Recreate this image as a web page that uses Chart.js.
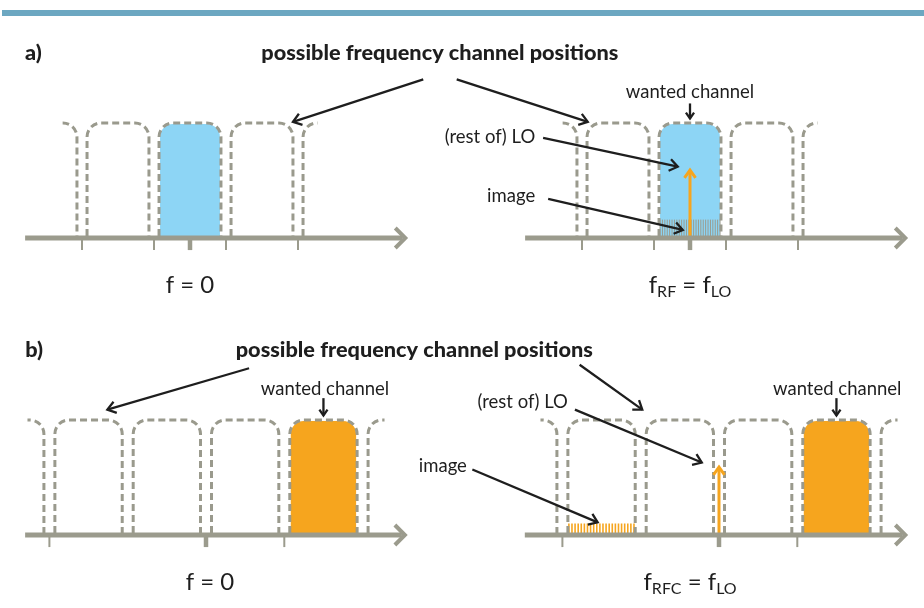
<!DOCTYPE html>
<html>
<head>
<meta charset="utf-8">
<script src="https://cdn.jsdelivr.net/npm/chart.js@4.4.1/dist/chart.umd.min.js"></script>
<style>
  html, body { margin: 0; padding: 0; background: #fff; }
  #wrap { width: 924px; height: 608px; }
</style>
</head>
<body>
<div id="wrap"><canvas id="diagram" width="924" height="608"></canvas></div>
<script>
/* ===================== DATA ===================== */
// frequencies in channel widths, 0 = f = 0 (left panels) or f_LO (right panels)
// levels relative to the channel height (1 = top of a channel)
const channelsA = [-2, -1, 0, 1, 2];
const ticksA = [-1.5, -0.5, 0, 0.5, 1.5];
const wantedA = 0;
const imageA = [-0.43, 0.43];

const channelsB = [-2.5, -1.5, -0.5, 0.5, 1.5, 2.5];
const ticksB = [-2, 0, 1];
const wantedB = 1.5;
const imageB = [-1.93, -1.07];

const loFreq = 0;
const loLevel = 0.59;
const imageLevelA = 0.16;
const imageLevelB = 0.1;
const channelHalf = 0.43;

const TITLE = "possible frequency channel positions";

// [panel, f, level, text, bold, align]
const labels = [
  ["aL", -2.29, 1.545, "a)", true, "left"],
  ["aL", 3.47, 1.545, TITLE, true, "center"],
  ["aR", 0, 1.22, "wanted channel", false, "center"],
  ["aR", -2.15, 0.826, "(rest of) LO", false, "right"],
  ["aR", -2.15, 0.31, "image", false, "right"],
  ["bL", -2.31, 1.545, "b)", true, "left"],
  ["bL", 2.66, 1.545, TITLE, true, "center"],
  ["bL", 1.52, 1.22, "wanted channel", false, "center"],
  ["bR", 1.51, 1.22, "wanted channel", false, "center"],
  ["bR", -1.93, 1.104, "(rest of) LO", false, "right"],
  ["bR", -3.22, 0.548, "image", false, "right"]
];

// frequency captions under each axis: [panel, f, parts] (sub = subscript)
const captions = [
  ["aL", 0, [["f = 0", false]]],
  ["aR", 0, [["f", false], ["RF", true], [" = f", false], ["LO", true]]],
  ["bL", 0.05, [["f = 0", false]]],
  ["bR", -0.37, [["f", false], ["RFC", true], [" = f", false], ["LO", true]]]
];

// pointer arrows: [panel, fromF, fromLevel, toF, toLevel, head]
const pointers = [
  ["aL", 3.24, 1.38, 1.43, 1.01, 10],
  ["aR", -3.24, 1.38, -1.42, 1.01, 10],
  ["aR", 0, 1.17, 0, 1.04, 7],
  ["aR", -2.04, 0.87, -0.17, 0.62, 10],
  ["aR", -1.97, 0.34, -0.1, 0.07, 10],
  ["bL", 0.55, 1.45, -1.26, 1.09, 10],
  ["bR", -1.78, 1.48, -0.98, 1.09, 10],
  ["bL", 1.5, 1.19, 1.5, 1.04, 7],
  ["bR", 1.5, 1.19, 1.5, 1.04, 7],
  ["bR", -1.84, 1.09, -0.22, 0.63, 10],
  ["bR", -3.15, 0.57, -1.55, 0.11, 10]
];

/* ===================== LAYOUT / STYLE ===================== */
const BLUE = "#8dd5f5";
const ORANGE = "#f6a51e";
const GREY = "#9b9b8d";
const DASH_GREY = "#9a9a8d";
const INK = "#1e1e1e";
const RULE = "#6ca7c1";
const CH_H = 115;
const FONT = "Lato, 'Noto Sans', sans-serif";

const panels = {
  aL: { origin: 190, step: 72, base: 238, span: [-2.29, 2.99], clip: [-1.77, 1.77],
        channels: channelsA, ticks: ticksA, wanted: wantedA, fill: BLUE },
  aR: { origin: 690, step: 72, base: 238, span: [-2.29, 2.99], clip: [-1.77, 1.77],
        channels: channelsA, ticks: ticksA, wanted: wantedA, fill: BLUE,
        lo: loFreq, image: imageA, imageLevel: imageLevelA, imageColor: GREY },
  bL: { origin: 206, step: 78.3, base: 535, span: [-2.31, 2.54], clip: [-2.28, 2.28],
        channels: channelsB, ticks: ticksB, wanted: wantedB, fill: ORANGE },
  bR: { origin: 719, step: 78.3, base: 535, span: [-2.48, 2.38], clip: [-2.28, 2.28],
        channels: channelsB, ticks: ticksB, wanted: wantedB, fill: ORANGE,
        lo: loFreq, image: imageB, imageLevel: imageLevelB, imageColor: ORANGE }
};

/* ===================== HELPERS ===================== */
function mapper(chart, p) {
  const X = chart.scales.x, Y = chart.scales.y;
  return {
    x: f => X.getPixelForValue(p.origin + f * p.step),
    y: a => Y.getPixelForValue(p.base - a * CH_H)
  };
}

function channelPath(ctx, l, r, t, b, rad) {
  ctx.beginPath();
  ctx.moveTo(l, b);
  ctx.lineTo(l, t + rad);
  ctx.arcTo(l, t, l + rad, t, rad);
  ctx.lineTo(r - rad, t);
  ctx.arcTo(r, t, r, t + rad, rad);
  ctx.lineTo(r, b);
}

function arrowHead(ctx, x0, y0, x1, y1, size) {
  const ang = Math.atan2(y1 - y0, x1 - x0);
  const spread = 0.62;
  ctx.beginPath();
  ctx.moveTo(x1 - size * Math.cos(ang - spread), y1 - size * Math.sin(ang - spread));
  ctx.lineTo(x1, y1);
  ctx.lineTo(x1 - size * Math.cos(ang + spread), y1 - size * Math.sin(ang + spread));
  ctx.stroke();
}

function drawPanel(chart, p) {
  const ctx = chart.ctx;
  const m = mapper(chart, p);
  const base = m.y(0), top = m.y(1);

  ctx.save();
  ctx.beginPath();
  ctx.rect(m.x(p.clip[0]), 0, m.x(p.clip[1]) - m.x(p.clip[0]), chart.height);
  ctx.clip();

  // wanted channel fill
  channelPath(ctx, m.x(p.wanted - channelHalf) + 1, m.x(p.wanted + channelHalf) - 1, top + 1, base, 13);
  ctx.closePath();
  ctx.fillStyle = p.fill;
  ctx.fill();

  // image band
  if (p.image) {
    const y0 = m.y(p.imageLevel);
    ctx.strokeStyle = p.imageColor;
    const w = p.imageColor === GREY ? 1 : 1.6;
    const gap = p.imageColor === GREY ? 2.4 : 3.1;
    ctx.lineWidth = w;
    ctx.beginPath();
    for (let x = m.x(p.image[0]) + 1; x <= m.x(p.image[1]); x += gap) {
      ctx.moveTo(x, y0);
      ctx.lineTo(x, base);
    }
    ctx.stroke();
  }

  // dashed channel outlines
  ctx.strokeStyle = DASH_GREY;
  ctx.lineWidth = 3;
  ctx.setLineDash([7, 4]);
  p.channels.forEach(c => {
    channelPath(ctx, m.x(c - channelHalf), m.x(c + channelHalf), top, base - 2, 14);
    ctx.stroke();
  });
  ctx.setLineDash([]);
  ctx.restore();

  // LO carrier
  if (p.lo !== undefined) {
    const lx = m.x(p.lo), ly = m.y(loLevel);
    ctx.strokeStyle = ORANGE;
    ctx.lineWidth = 3;
    ctx.beginPath();
    ctx.moveTo(lx, base);
    ctx.lineTo(lx, ly + 1);
    ctx.stroke();
    ctx.lineCap = "square";
    arrowHead(ctx, lx, base, lx, ly, 8);
    ctx.lineCap = "butt";
  }

  // frequency axis
  const x0 = m.x(p.span[0]), x1 = m.x(p.span[1]);
  ctx.strokeStyle = GREY;
  ctx.lineWidth = 5;
  ctx.beginPath();
  ctx.moveTo(x0, base);
  ctx.lineTo(x1 - 3, base);
  ctx.stroke();
  ctx.lineWidth = 4;
  ctx.lineJoin = "miter";
  ctx.beginPath();
  ctx.moveTo(x1 - 10, base - 10);
  ctx.lineTo(x1, base);
  ctx.lineTo(x1 - 10, base + 10);
  ctx.stroke();

  // ticks
  p.ticks.forEach(t => {
    ctx.lineWidth = t === 0 ? 4.5 : 2;
    ctx.beginPath();
    ctx.moveTo(m.x(t), base);
    ctx.lineTo(m.x(t), m.y(-0.105));
    ctx.stroke();
  });
}

function drawCaption(chart, c) {
  const ctx = chart.ctx;
  const m = mapper(chart, panels[c[0]]);
  const big = "24px " + FONT, small = "16px " + FONT;
  let width = 0;
  c[2].forEach(([t, sub]) => { ctx.font = sub ? small : big; width += ctx.measureText(t).width; });
  let x = m.x(c[1]) - width / 2;
  const yb = m.y(-0.475);
  ctx.fillStyle = INK;
  ctx.textAlign = "left";
  ctx.textBaseline = "alphabetic";
  c[2].forEach(([t, sub]) => {
    ctx.font = sub ? small : big;
    ctx.fillText(t, x, sub ? yb + 4 : yb);
    x += ctx.measureText(t).width;
  });
}

/* ===================== CHART ===================== */
const diagramPlugin = {
  id: "channelDiagram",
  afterDraw(chart) {
    const ctx = chart.ctx;
    ctx.save();

    // top rule
    ctx.strokeStyle = RULE;
    ctx.lineWidth = 6;
    ctx.beginPath();
    ctx.moveTo(chart.scales.x.getPixelForValue(2), chart.scales.y.getPixelForValue(13));
    ctx.lineTo(chart.scales.x.getPixelForValue(924), chart.scales.y.getPixelForValue(13));
    ctx.stroke();

    Object.values(panels).forEach(p => drawPanel(chart, p));

    // pointers
    ctx.strokeStyle = INK;
    ctx.lineWidth = 2.3;
    ctx.lineJoin = "miter";
    pointers.forEach(([pid, f0, a0, f1, a1, head]) => {
      const m = mapper(chart, panels[pid]);
      ctx.beginPath();
      ctx.moveTo(m.x(f0), m.y(a0));
      ctx.lineTo(m.x(f1), m.y(a1));
      ctx.stroke();
      arrowHead(ctx, m.x(f0), m.y(a0), m.x(f1), m.y(a1), head);
    });

    // labels
    ctx.fillStyle = INK;
    ctx.textBaseline = "alphabetic";
    labels.forEach(([pid, f, a, text, bold, align]) => {
      const m = mapper(chart, panels[pid]);
      ctx.font = bold ? "900 21.7px " + FONT : "18.5px " + FONT;
      ctx.textAlign = align;
      ctx.fillText(text, m.x(f), m.y(a));
    });

    captions.forEach(c => drawCaption(chart, c));
    ctx.restore();
  }
};

const diagram = new Chart(document.getElementById("diagram"), {
  type: "scatter",
  data: { datasets: [] },
  options: {
    responsive: false,
    animation: false,
    devicePixelRatio: 1,
    events: [],
    layout: { padding: 0 },
    plugins: { legend: { display: false }, tooltip: { enabled: false } },
    scales: {
      x: { type: "linear", min: 0, max: 924, display: false },
      y: { type: "linear", min: 0, max: 608, reverse: true, display: false }
    }
  },
  plugins: [diagramPlugin]
});
</script>
</body>
</html>
